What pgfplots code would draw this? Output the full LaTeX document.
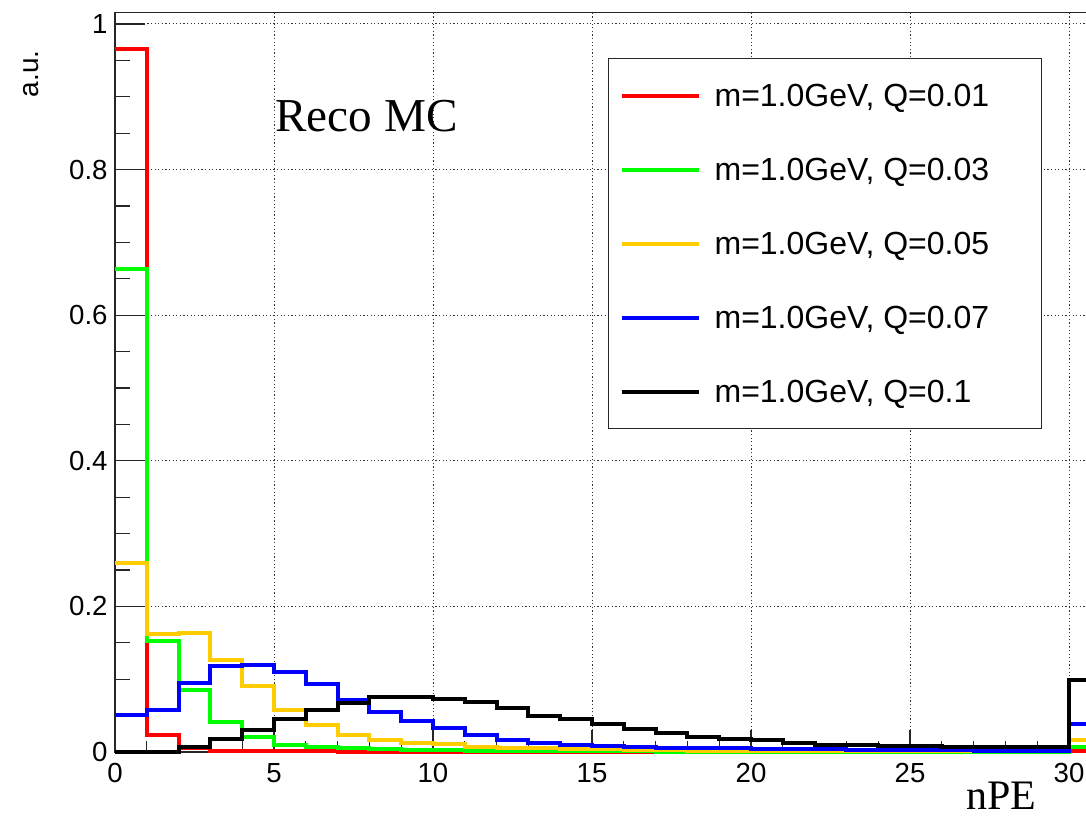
\documentclass[border=0pt]{standalone}
\usepackage{pgfplots}
\pgfplotsset{compat=1.18}
\usepackage{fontspec}
\setmainfont{Liberation Sans}
\newfontfamily\serif{Liberation Serif}
\definecolor{rootyellow}{RGB}{255,204,0}
\definecolor{rootgreen}{RGB}{0,255,0}
\definecolor{rootblue}{RGB}{0,0,255}
\definecolor{rootred}{RGB}{255,0,0}
\begin{document}
\begin{tikzpicture}
\path[use as bounding box] (0,0) rectangle (543pt,408pt);
\clip (0,0) rectangle (543pt,408pt);
\begin{axis}[
  at={(57.5pt,32pt)}, anchor=south west,
  scale only axis, width=492.9pt, height=369.65pt,
  xmin=0, xmax=31, ymin=0, ymax=1.0155,
  clip=false,
  xtick={0,5,10,15,20,25,30},
  ytick={0,0.2,0.4,0.6,0.8,1},
  minor x tick num=4, minor y tick num=3,
  xtick pos=bottom, ytick pos=left,
  tick align=inside,
  x tick style={/pgfplots/major tick length=11pt, /pgfplots/minor tick length=5.5pt},
  y tick style={/pgfplots/major tick length=15pt, /pgfplots/minor tick length=7.5pt},
  tick style={black!85, line width=0.6pt},
  axis line style={black!85, line width=0.6pt},
  grid=major,
  grid style={black!80, line width=0.5pt, dash pattern=on 0.6pt off 1.2pt},
  /pgf/number format/assume math mode=true,
  tick label style={font=\fontsize{13.8}{16}\selectfont},
  xticklabel style={inner sep=0pt, yshift=-5.5pt},
  yticklabel style={inner sep=0pt, xshift=-3.5pt},
  xlabel={nPE},
  xlabel style={at={(axis description cs:0.9353,-0.0775)}, anchor=base east, inner sep=0pt, font=\serif\fontsize{21}{24}\selectfont},
  ylabel={a.u.},
  ylabel style={at={(axis description cs:-0.0852,0.9495)}, anchor=east, inner sep=0pt, font=\fontsize{14}{16}\selectfont},
  legend style={at={(axis description cs:0.5001,0.9387)}, anchor=north west,
    draw=black!85, line width=0.6pt, inner xsep=5.5pt, inner ysep=11.5pt,
    row sep=23pt, column sep=7pt,
    nodes={inner sep=0pt, text height=12.25pt, text depth=1.75pt, font=\fontsize{16}{18}\selectfont},
    cells={anchor=west}},
  legend image code/.code={\path[draw=none,fill=none] (0pt,-5.5pt) rectangle (38.5pt,1pt);\draw[#1, line width=2pt] (0pt,0pt) -- (38.5pt,0pt);},
  every axis plot/.append style={line width=2pt, const plot, mark=none},
]
\addplot[rootred] coordinates {
(0,0.965) (1,0.023) (2,0.005) (3,0.001) (4,0.001) (5,0.001) (6,0.001) (7,0.0005)
(8,0) (9,0) (10,0) (11,0) (12,0) (13,0) (14,0) (15,0) (16,0) (17,0) (18,0) (19,0)
(20,0) (21,0) (22,0) (23,0) (24,0) (25,0) (26,0) (27,0) (28,0) (29,0) (30,0.002) (31,0.002)};
\addlegendentry{\makebox[158pt][l]{m=1.0GeV, Q=0.01}}
\addplot[rootgreen] coordinates {
(0,0.663) (1,0.153) (2,0.085) (3,0.041) (4,0.020) (5,0.010) (6,0.007) (7,0.005)
(8,0.004) (9,0.003) (10,0.003) (11,0.002) (12,0.002) (13,0.0015) (14,0.0012) (15,0.001)
(16,0.001) (17,0) (18,0) (19,0) (20,0) (21,0) (22,0) (23,0) (24,0) (25,0) (26,0)
(27,0) (28,0) (29,0) (30,0.007) (31,0.007)};
\addlegendentry{m=1.0GeV, Q=0.03}
\addplot[rootyellow] coordinates {
(0,0.259) (1,0.162) (2,0.163) (3,0.127) (4,0.090) (5,0.058) (6,0.037) (7,0.023)
(8,0.016) (9,0.012) (10,0.011) (11,0.0075) (12,0.006) (13,0.005) (14,0.004) (15,0.004)
(16,0.003) (17,0.003) (18,0.002) (19,0.002) (20,0.001) (21,0.001) (22,0.001) (23,0.001)
(24,0.001) (25,0.001) (26,0.001) (27,0.001) (28,0.001) (29,0.001) (30,0.017) (31,0.017)};
\addlegendentry{m=1.0GeV, Q=0.05}
\addplot[rootblue] coordinates {
(0,0.051) (1,0.058) (2,0.095) (3,0.118) (4,0.119) (5,0.110) (6,0.094) (7,0.072)
(8,0.055) (9,0.043) (10,0.033) (11,0.023) (12,0.016) (13,0.013) (14,0.010) (15,0.008)
(16,0.007) (17,0.006) (18,0.005) (19,0.005) (20,0.004) (21,0.004) (22,0.004) (23,0.003)
(24,0.003) (25,0.003) (26,0.003) (27,0.002) (28,0.002) (29,0.001) (30,0.038) (31,0.038)};
\addlegendentry{m=1.0GeV, Q=0.07}
\addplot[black] coordinates {
(0,0) (1,0) (2,0.007) (3,0.018) (4,0.030) (5,0.045) (6,0.058) (7,0.068)
(8,0.076) (9,0.075) (10,0.073) (11,0.069) (12,0.060) (13,0.050) (14,0.045) (15,0.038)
(16,0.031) (17,0.026) (18,0.021) (19,0.018) (20,0.016) (21,0.012) (22,0.009) (23,0.009)
(24,0.0087) (25,0.0087) (26,0.0075) (27,0.0075) (28,0.0065) (29,0.0065) (30,0.099) (31,0.099)};
\addlegendentry{m=1.0GeV, Q=0.1}
\end{axis}
\node[anchor=base west, inner sep=0pt, font=\serif\fontsize{23.6}{27}\selectfont] at (137.5pt,342pt) {Reco MC};
\end{tikzpicture}
\end{document}
